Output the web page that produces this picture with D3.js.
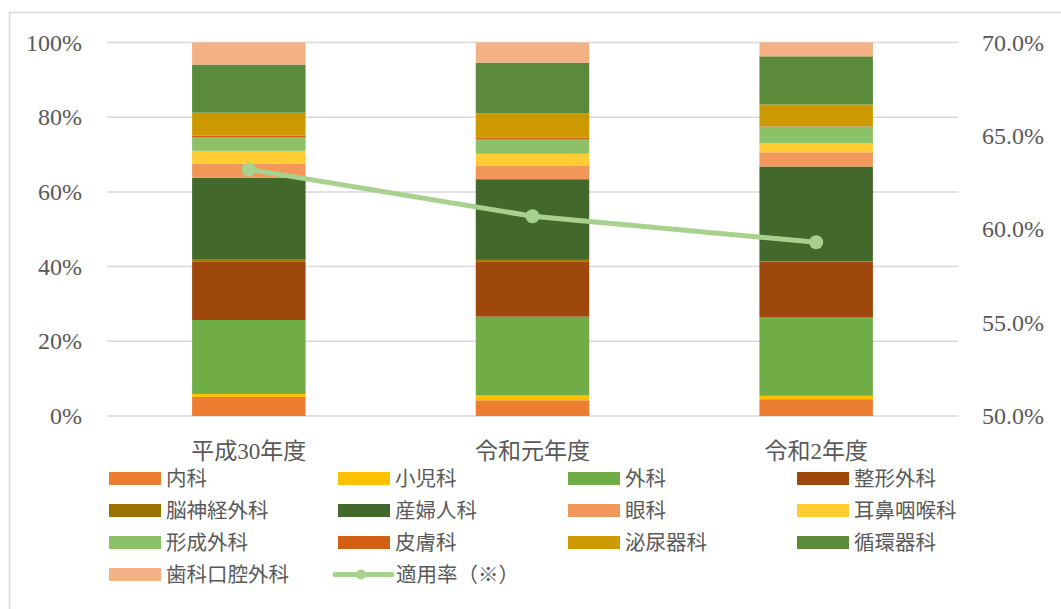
<!DOCTYPE html>
<html>
<head>
<meta charset="utf-8">
<script src="https://cdn.jsdelivr.net/npm/d3@7/dist/d3.min.js"></script>
<style>
  html, body { margin: 0; padding: 0; background: #fff; }
  svg { display: block; }
  text { font-family: "Liberation Serif", "Noto Sans CJK JP", serif; fill: #595959; }
</style>
</head>
<body>
<svg id="chart" width="1061" height="609"></svg>
<script>
// ---- Data ----
const categories = ["平成30年度", "令和元年度", "令和2年度"];
const seriesNames = ["内科", "小児科", "外科", "整形外科", "脳神経外科", "産婦人科", "眼科", "耳鼻咽喉科", "形成外科", "皮膚科", "泌尿器科", "循環器科", "歯科口腔外科"];
// share (%) per category for each series
const naika      = [5.1, 4.2, 4.5];
const shoni      = [0.8, 1.3, 0.9];
const geka       = [19.8, 21.1, 21.1];
const seikei     = [15.7, 14.8, 14.9];
const noshinkei  = [0.6, 0.4, 0.1];
const sanfujin   = [21.8, 21.6, 25.3];
const ganka      = [3.8, 3.7, 3.8];
const jibi       = [3.4, 3.1, 2.5];
const keisei     = [3.7, 3.8, 4.4];
const hifu       = [0.4, 0.6, 0.1];
const hinyoki    = [6.1, 6.5, 5.8];
const junkanki   = [12.9, 13.5, 12.9];
const shika      = [5.9, 5.4, 3.7];
const tekiyoRate = [63.2, 60.7, 59.3]; // 適用率（※） right axis, %
const leftTicks  = [0, 0.2, 0.4, 0.6, 0.8, 1.0];
const rightTicks = [0.50, 0.55, 0.60, 0.65, 0.70];
const lineName = "適用率（※）";

const seriesValues = [naika, shoni, geka, seikei, noshinkei, sanfujin, ganka, jibi, keisei, hifu, hinyoki, junkanki, shika];
const colors = ["#ED7D31", "#FFC000", "#70AD47", "#9E480E", "#997300", "#43682B", "#F1975A", "#FFCD33", "#8CC168", "#D26012", "#CC9A00", "#5A8A3A", "#F4B183"];
const lineColor = "#A9D18E";

// ---- Layout ----
const svg = d3.select("#chart");
const plot = { left: 107, right: 958, top: 42.5, bottom: 416 };

// chart frame
svg.append("rect").attr("x", 9.5).attr("y", 12.5).attr("width", 1100).attr("height", 700)
  .attr("fill", "none").attr("stroke", "#D9D9D9").attr("stroke-width", 1.5);

const x = d3.scaleBand().domain(categories).range([plot.left, plot.right]).padding(0);
const y = d3.scaleLinear().domain([0, 1]).range([plot.bottom, plot.top]);
const y2 = d3.scaleLinear().domain([0.5, 0.7]).range([plot.bottom, plot.top]);

// gridlines
svg.append("g").selectAll("line").data(leftTicks).join("line")
  .attr("x1", plot.left).attr("x2", plot.right)
  .attr("y1", d => y(d)).attr("y2", d => y(d))
  .attr("stroke", "#D9D9D9").attr("stroke-width", 1.5);

// left axis
const yAxis = d3.axisLeft(y).tickValues(leftTicks).tickFormat(d3.format(".0%")).tickSize(0).tickPadding(0);
const gy = svg.append("g").attr("transform", "translate(82,0)").call(yAxis);
gy.select(".domain").remove();
gy.selectAll("text").attr("font-size", 24).attr("fill", "#595959")
  .style("font-family", '"Liberation Serif", serif');

// right axis
const y2Axis = d3.axisRight(y2).tickValues(rightTicks).tickFormat(d3.format(".1%")).tickSize(0).tickPadding(0);
const gy2 = svg.append("g").attr("transform", "translate(982,0)").call(y2Axis);
gy2.select(".domain").remove();
gy2.selectAll("text").attr("font-size", 24).attr("fill", "#595959")
  .style("font-family", '"Liberation Serif", serif');

// stacked data
const table = categories.map((c, i) => {
  const row = { cat: c };
  seriesNames.forEach((s, j) => row[s] = seriesValues[j][i] / 100);
  return row;
});
const stack = d3.stack().keys(seriesNames)(table);

const barW = x.bandwidth() * 0.4;
svg.append("g").selectAll("g").data(stack).join("g")
  .attr("fill", (d, i) => colors[i])
  .selectAll("rect").data(d => d).join("rect")
  .attr("x", d => x(d.data.cat) + (x.bandwidth() - barW) / 2)
  .attr("width", barW)
  .attr("y", d => y(d[1]))
  .attr("height", d => y(d[0]) - y(d[1]));

// category axis labels
const xAxis = d3.axisBottom(x).tickSize(0).tickPadding(0);
const gx = svg.append("g").attr("transform", `translate(0,${plot.bottom + 27})`).call(xAxis);
gx.select(".domain").remove();
gx.selectAll("text").attr("font-size", 23).attr("fill", "#595959")
  .style("font-family", '"Liberation Serif", "Noto Sans CJK JP", serif');

// line
const cx = c => x(c) + x.bandwidth() / 2;
const line = d3.line().x((d, i) => cx(categories[i])).y(d => y2(d / 100));
svg.append("path").datum(tekiyoRate).attr("d", line)
  .attr("fill", "none").attr("stroke", lineColor).attr("stroke-width", 5).attr("stroke-linecap", "round");
svg.append("g").selectAll("circle").data(tekiyoRate).join("circle")
  .attr("cx", (d, i) => cx(categories[i])).attr("cy", d => y2(d / 100)).attr("r", 7)
  .attr("fill", lineColor);

// legend
const leg = svg.append("g");
const colX = [109, 338, 568, 797];
const rowY = [478.5, 510.5, 542.5, 574.5];
seriesNames.forEach((s, i) => {
  const gx0 = colX[i % 4], gy0 = rowY[Math.floor(i / 4)];
  leg.append("rect").attr("x", gx0).attr("y", gy0 - 6.5).attr("width", 52).attr("height", 13).attr("fill", colors[i]);
  leg.append("text").attr("x", gx0 + 57).attr("y", gy0).attr("dy", "0.35em")
    .attr("font-size", 20.5).text(s);
});
{
  const i = seriesNames.length;
  const gx0 = colX[i % 4] - 3, gy0 = rowY[Math.floor(i / 4)];
  leg.append("line").attr("x1", gx0).attr("x2", gx0 + 57).attr("y1", gy0).attr("y2", gy0)
    .attr("stroke", lineColor).attr("stroke-width", 5).attr("stroke-linecap", "round");
  leg.append("circle").attr("cx", gx0 + 26).attr("cy", gy0).attr("r", 5).attr("fill", lineColor);
  leg.append("text").attr("x", gx0 + 61).attr("y", gy0).attr("dy", "0.35em")
    .attr("font-size", 20.5).text(lineName);
}
</script>
</body>
</html>
